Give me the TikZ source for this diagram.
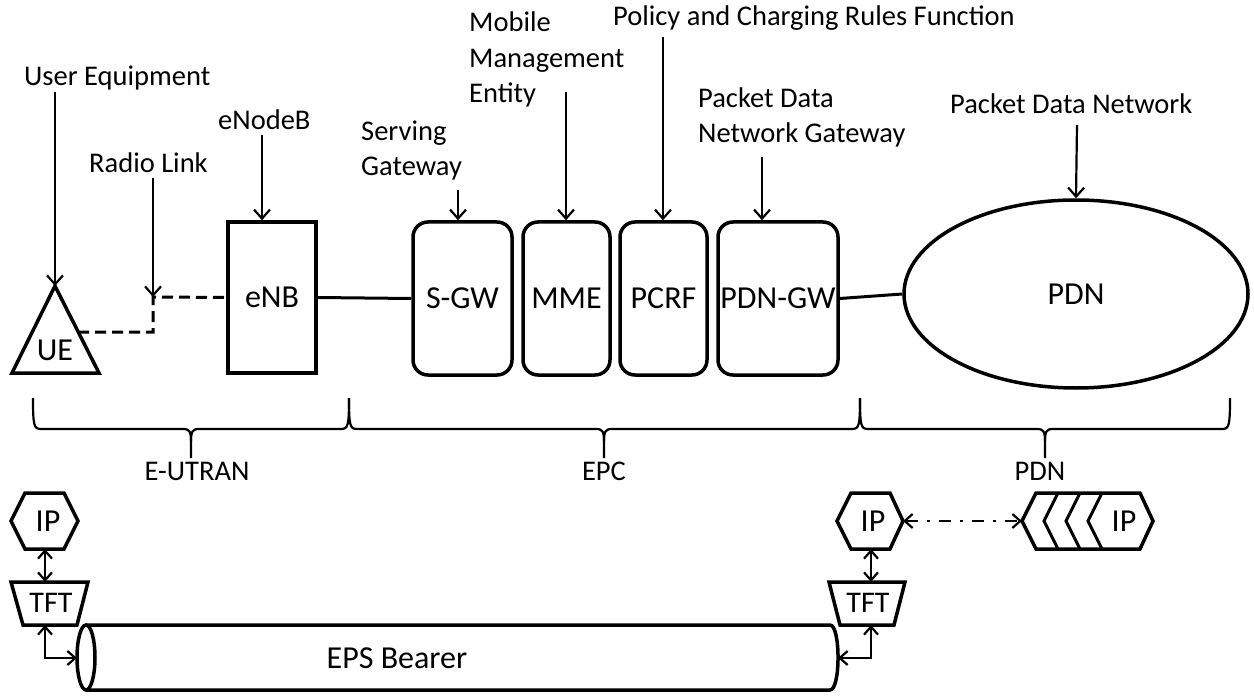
\documentclass[tikz,border=0pt]{standalone}
\usepackage{fontspec}
\setmainfont{Carlito}
\usetikzlibrary{arrows.meta,shapes.geometric,calc}
\begin{document}
\begin{tikzpicture}[x=1pt,y=-1pt,
  lbl/.style={font=\fontsize{28.5}{35.5}\selectfont, inner sep=0pt, align=left},
  big/.style={font=\fontsize{32}{38}\selectfont, inner sep=0pt},
  box/.style={draw, line width=3.5pt, big},
  rbox/.style={box, rounded corners=15pt},
  shp/.style={line width=3.5pt, line join=miter},
  conn/.style={line width=3pt},
  arr/.style={line width=2.2pt, -{Straight Barb[length=9pt,width=16pt]}},
  dblarr/.style={line width=2.2pt, {Straight Barb[length=8pt,width=14pt]}-{Straight Barb[length=8pt,width=14pt]}},
  brc/.style={line width=2.2pt},
]
\useasboundingbox (0,0) rectangle (1254,698);

% ---------- top labels ----------
\node[lbl, anchor=base west] (lUE) at (24,86) {User Equipment};
\node[lbl, anchor=base west] (lRL) at (89,173) {Radio Link};
\node[lbl, anchor=base west] (lEN) at (218,130) {eNodeB};
\node[lbl, anchor=base west] (lSG) at (361,176) {Serving\\Gateway};
\node[lbl, anchor=base west] (lMM) at (469,103) {Mobile\\Management\\Entity};
\node[lbl, anchor=base west] (lPC) at (613,26) {Policy and Charging Rules Function};
\node[lbl, anchor=base west] (lPG) at (698,143) {Packet Data\\Network Gateway};
\node[lbl, anchor=base west] (lPD) at (950,114) {Packet Data Network};

% ---------- UE ----------
\coordinate (ueapex) at (55,286);
\draw[shp] (ueapex) -- (99,373) -- (12,373) -- cycle;
\node[big] (ue) at (55,350) {UE};

% ---------- boxes ----------
\node[box, minimum width=88pt, minimum height=151pt] (enb) at (272,297.5) {eNB};
\node[rbox, minimum width=99pt, minimum height=153pt] (sgw) at (462.5,298.5) {S-GW};
\node[rbox, minimum width=87pt, minimum height=153pt] (mme) at (566.5,298.5) {MME};
\node[rbox, minimum width=87pt, minimum height=153pt] (pcrf) at (663.5,298.5) {PCRF};
\node[rbox, minimum width=120pt, minimum height=153pt] (pgw) at (778,298.5) {PDN-GW};
\node[box, ellipse, minimum width=344pt, minimum height=188pt] (pdn) at (1076,294) {PDN};

% ---------- connections ----------
\coordinate (ueside) at (78,332);
\coordinate (radio) at (153,297);
\draw[conn, dash pattern=on 11pt off 6pt] (ueside) -- (153,332) -- (radio) -- (enb.west);
\draw[conn] (enb.east) -- (sgw.west);
\draw[conn] (pgw.east) -- (pdn.west);

% ---------- label arrows ----------
\coordinate (sUE) at (55,92);
\coordinate (sRL) at (153,178);
\coordinate (sEN) at (262,135);
\coordinate (sSG) at (458,190);
\coordinate (sMM) at (566,92);
\coordinate (sPC) at (663,37);
\coordinate (sPG) at (762,157);
\coordinate (sPD) at (1077,125);
\draw[arr] (sUE) -- (ueapex);
\draw[arr] (sRL) -- (radio);
\draw[arr] (sEN) -- (sEN |- enb.north);
\draw[arr] (sSG) -- (sSG |- sgw.north);
\draw[arr] (sMM) -- (sMM |- mme.north);
\draw[arr] (sPC) -- (sPC |- pcrf.north);
\draw[arr] (sPG) -- (sPG |- pgw.north);
\draw[arr] (sPD) -- (pdn.north);

% ---------- braces ----------
\def\ya{398}\def\yb{429}\def\yc{458}
\draw[brc] (33,\ya) .. controls (33,\yb-3) and (34,\yb) .. (41,\yb) -- (183,\yb)
  .. controls (190,\yb) and (191,\yb+3) .. (191,\yb+12) -- (191,\yc);
\draw[brc] (191,\yb+12) .. controls (191,\yb+3) and (192,\yb) .. (199,\yb) -- (341,\yb)
  .. controls (348,\yb) and (349,\yb-3) .. (349,\ya);
\draw[brc] (349,\ya) .. controls (349,\yb-3) and (350,\yb) .. (357,\yb) -- (596,\yb)
  .. controls (603,\yb) and (604,\yb+3) .. (604,\yb+12) -- (604,\yc);
\draw[brc] (604,\yb+12) .. controls (604,\yb+3) and (605,\yb) .. (612,\yb) -- (852,\yb)
  .. controls (859,\yb) and (860,\yb-3) .. (860,\ya);
\draw[brc] (860,\ya) .. controls (860,\yb-3) and (861,\yb) .. (868,\yb) -- (1037,\yb)
  .. controls (1044,\yb) and (1045,\yb+3) .. (1045,\yb+12) -- (1045,\yc);
\draw[brc] (1045,\yb+12) .. controls (1045,\yb+3) and (1046,\yb) .. (1053,\yb) -- (1222,\yb)
  .. controls (1229,\yb) and (1230,\yb-3) .. (1230,\ya);
\node[lbl, anchor=base] (bEU) at (197,480) {E-UTRAN};
\node[lbl, anchor=base] (bEPC) at (604,480) {EPC};
\node[lbl, anchor=base] (bPDN) at (1040,480) {PDN};

% ---------- bottom left ----------
\draw[shp] (11,521) -- (25,493) -- (64,493) -- (78,521) -- (64,549) -- (25,549) -- cycle;
\node[big] (ipL) at (48,521) {IP};
\coordinate (ipLb) at (45,549);
\draw[shp] (11,582) -- (88,582) -- (77,625) -- (23,625) -- cycle;
\node[big, font=\fontsize{30}{36}\selectfont] (tftL) at (51,603) {TFT};
\coordinate (tftLt) at (45,582);
\coordinate (tftLb) at (45,625);
\draw[dblarr] (ipLb) -- (tftLt);

% ---------- bearer ----------
\draw[shp] (86,625) -- (830,625) .. controls (840.7,625) and (840.7,690) .. (830,690) -- (86,690);
\draw[shp, fill=white] (86,657.5) ellipse [x radius=9, y radius=32.5];
\coordinate (bearL) at (77,658);
\coordinate (bearR) at (838,658);
\node[big] (eps) at (397,658) {EPS Bearer};
\draw[dblarr] (tftLb) -- (45,658) -- (bearL);

% ---------- bottom right ----------
\draw[shp] (837,521) -- (851,493) -- (890,493) -- (903,521) -- (890,549) -- (851,549) -- cycle;
\node[big] (ipR) at (873,521) {IP};
\coordinate (ipRr) at (903,521);
\coordinate (ipRb) at (871,549);
\draw[shp] (829,582) -- (905,582) -- (894,625) -- (840,625) -- cycle;
\node[big, font=\fontsize{30}{36}\selectfont] (tftR) at (868,603) {TFT};
\coordinate (tftRt) at (871,582);
\coordinate (tftRb) at (871,625);
\draw[dblarr] (ipRb) -- (tftRt);
\draw[dblarr] (tftRb) -- (871,658) -- (bearR);

% packet stream shape
\draw[shp] (1036,493) -- (1140,493) -- (1153,521) -- (1140,549) -- (1036,549) -- (1022,521) -- cycle;
\draw[line width=3pt] (1058,493) -- (1044,521) -- (1058,549);
\draw[line width=3pt] (1080,493) -- (1066,521) -- (1080,549);
\draw[line width=3pt] (1102,493) -- (1088,521) -- (1102,549);
\node[big] (ipP) at (1124,521) {IP};
\coordinate (pktL) at (1022,521);
\draw[line width=2.2pt, dash pattern=on 12pt off 9pt on 3pt off 9pt,
  {Straight Barb[length=8pt,width=14pt]}-{Straight Barb[length=8pt,width=14pt]}] (ipRr) -- (pktL);
\end{tikzpicture}
\end{document}
